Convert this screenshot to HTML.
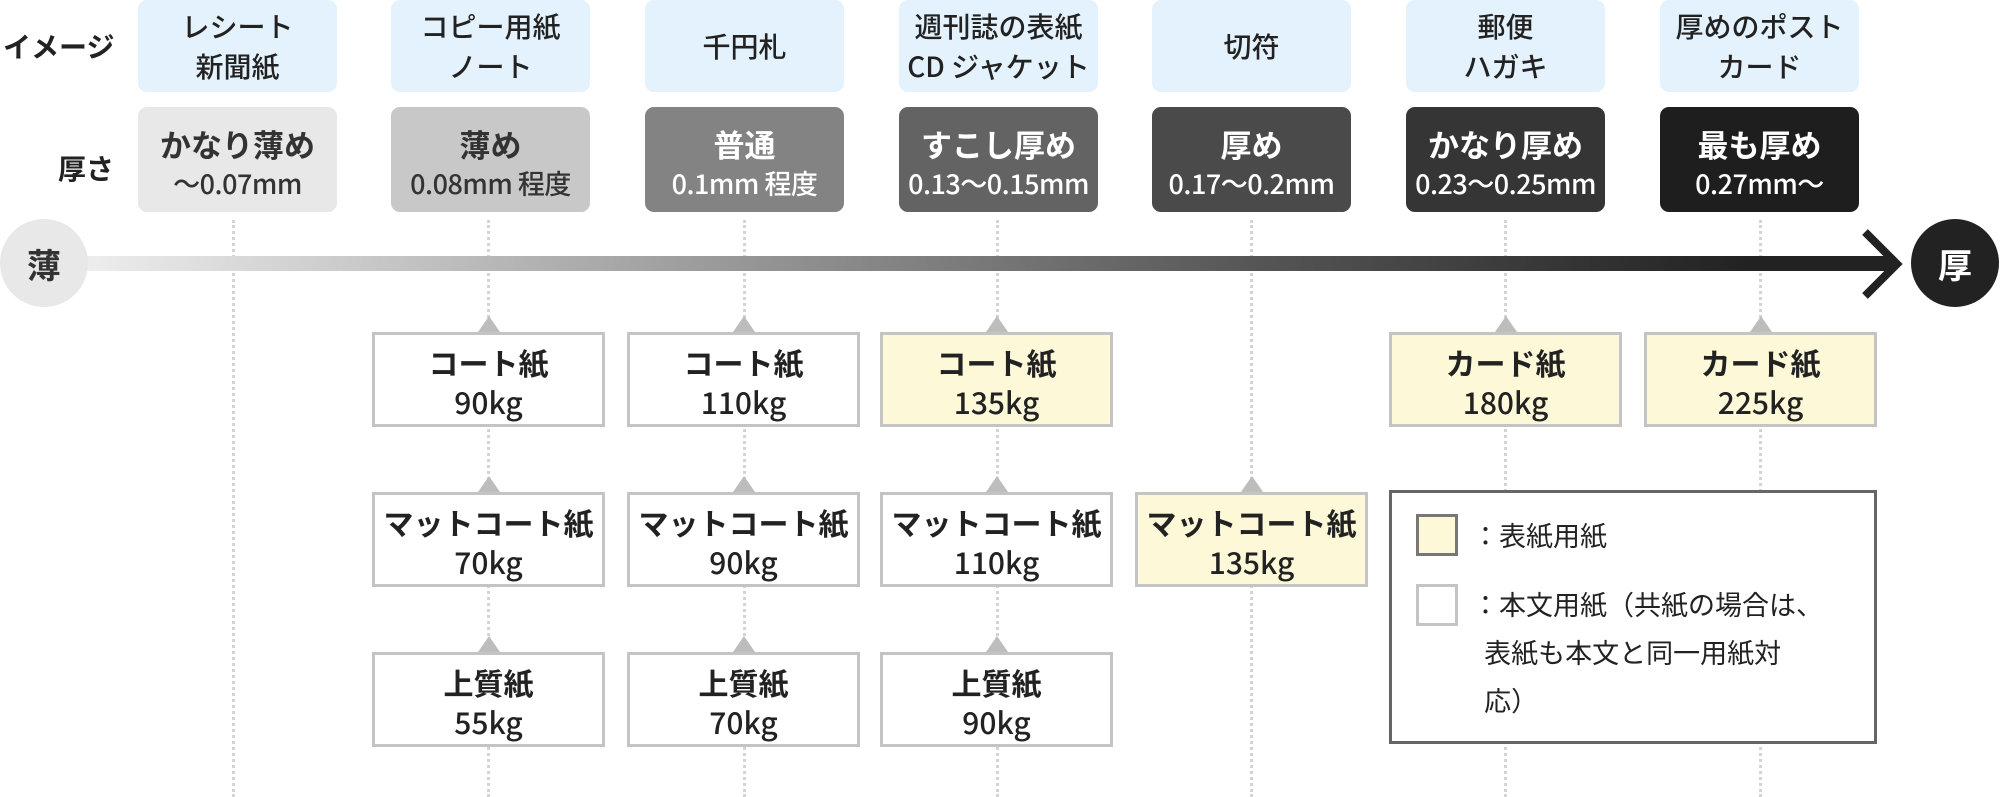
<!DOCTYPE html>
<html><head><meta charset="utf-8"><style>
body{margin:0;width:2000px;height:797px;background:#fff;position:relative;overflow:hidden;font-family:"Noto Sans CJK JP","Liberation Sans",sans-serif;color:#222}
.a{position:absolute}
.img{position:absolute;top:0;width:199px;height:92px;background:#e3f2fc;border-radius:9px;display:flex;align-items:center;justify-content:center;text-align:center;font-size:28px;line-height:40px;font-weight:500}
.th{position:absolute;top:107px;width:199px;height:105px;border-radius:9px;text-align:center;display:flex;flex-direction:column;justify-content:center;padding-top:4px;box-sizing:border-box}
.th b{font-size:31px;line-height:42px;font-weight:700}
.th span{font-size:27px;line-height:36px;font-weight:500;letter-spacing:-0.5px}
.dot{position:absolute;top:220px;height:577px;width:0;border-left:3px dotted #d4d4d4}
.bx{position:absolute;width:227px;height:85px;border:3px solid #c4c4c4;background:#fff;text-align:center;display:flex;flex-direction:column;justify-content:center;padding-top:4px;box-sizing:content-box}
.bx.y{background:#fdf8d8}
.bx b{font-size:30px;line-height:38px;font-weight:700}
.bx span{font-size:30px;line-height:40px;font-weight:500}
.bx:before{content:"";position:absolute;left:50%;top:-19px;margin-left:-11px;border-left:11px solid transparent;border-right:11px solid transparent;border-bottom:16px solid #bdbdbd}
.lab{position:absolute;font-size:28px;font-weight:700}
</style></head><body>
<div class="lab" style="left:3px;top:26px">イメージ</div>
<div class="lab" style="left:58px;top:148px">厚さ</div>

<div class="dot" style="left:232px"></div><div class="dot" style="left:487px"></div><div class="dot" style="left:743px"></div><div class="dot" style="left:996px"></div><div class="dot" style="left:1250px"></div><div class="dot" style="left:1504px"></div><div class="dot" style="left:1759px"></div>

<div class="img" style="left:138px">レシート<br>新聞紙</div>
<div class="img" style="left:391px">コピー用紙<br>ノート</div>
<div class="img" style="left:645px">千円札</div>
<div class="img" style="left:899px">週刊誌の表紙<br>CD ジャケット</div>
<div class="img" style="left:1152px">切符</div>
<div class="img" style="left:1406px">郵便<br>ハガキ</div>
<div class="img" style="left:1660px">厚めのポスト<br>カード</div>

<div class="th" style="left:138px;background:#e8e8e8;color:#333"><b>かなり薄め</b><span>～0.07mm</span></div>
<div class="th" style="left:391px;background:#c8c8c8;color:#333"><b>薄め</b><span>0.08mm 程度</span></div>
<div class="th" style="left:645px;background:#838383;color:#fff"><b>普通</b><span>0.1mm 程度</span></div>
<div class="th" style="left:899px;background:#636363;color:#fff"><b>すこし厚め</b><span>0.13～0.15mm</span></div>
<div class="th" style="left:1152px;background:#4a4a4a;color:#fff"><b>厚め</b><span>0.17～0.2mm</span></div>
<div class="th" style="left:1406px;background:#353535;color:#fff"><b>かなり厚め</b><span>0.23～0.25mm</span></div>
<div class="th" style="left:1660px;background:#1e1e1e;color:#fff"><b>最も厚め</b><span>0.27mm～</span></div>

<div class="a" style="left:80px;top:256px;width:1815px;height:15px;background:linear-gradient(90deg,#eeeeee,#9a9a9a 35%,#555 65%,#222 92%)"></div>
<svg class="a" style="left:1855px;top:228px" width="60" height="72"><polyline points="10,4 42,36 10,68" fill="none" stroke="#222" stroke-width="8"/></svg>
<div class="a" style="left:0;top:219px;width:88px;height:88px;border-radius:50%;background:#e8e8e8;color:#333;font-size:34px;font-weight:700;display:flex;align-items:center;justify-content:center">薄</div>
<div class="a" style="left:1911px;top:219px;width:88px;height:88px;border-radius:50%;background:#222;color:#fff;font-size:34px;font-weight:700;display:flex;align-items:center;justify-content:center">厚</div>

<div class="bx" style="left:372px;top:332px"><b>コート紙</b><span>90kg</span></div>
<div class="bx" style="left:372px;top:492px"><b>マットコート紙</b><span>70kg</span></div>
<div class="bx" style="left:372px;top:652px"><b>上質紙</b><span>55kg</span></div>
<div class="bx" style="left:627px;top:332px"><b>コート紙</b><span>110kg</span></div>
<div class="bx" style="left:627px;top:492px"><b>マットコート紙</b><span>90kg</span></div>
<div class="bx" style="left:627px;top:652px"><b>上質紙</b><span>70kg</span></div>
<div class="bx y" style="left:880px;top:332px"><b>コート紙</b><span>135kg</span></div>
<div class="bx" style="left:880px;top:492px"><b>マットコート紙</b><span>110kg</span></div>
<div class="bx" style="left:880px;top:652px"><b>上質紙</b><span>90kg</span></div>
<div class="bx y" style="left:1135px;top:492px"><b>マットコート紙</b><span>135kg</span></div>
<div class="bx y" style="left:1389px;top:332px"><b>カード紙</b><span>180kg</span></div>
<div class="bx y" style="left:1644px;top:332px"><b>カード紙</b><span>225kg</span></div>

<div class="a" style="left:1389px;top:490px;width:482px;height:248px;border:3px solid #666;background:#fff"></div>
<div class="a" style="left:1416px;top:514px;width:36px;height:36px;border:3px solid #777;background:#fdf8d8"></div>
<div class="a" style="left:1416px;top:584px;width:36px;height:36px;border:3px solid #c4c4c4;background:#fff"></div>
<div class="a" style="left:1472px;top:516px;font-size:27px;line-height:38px">：表紙用紙</div>
<div class="a" style="left:1472px;top:580px;font-size:27px;line-height:48px;width:380px">：本文用紙（共紙の場合は、<br>&nbsp;&nbsp;表紙も本文と同一用紙対<br>&nbsp;&nbsp;応）</div>
</body></html>
